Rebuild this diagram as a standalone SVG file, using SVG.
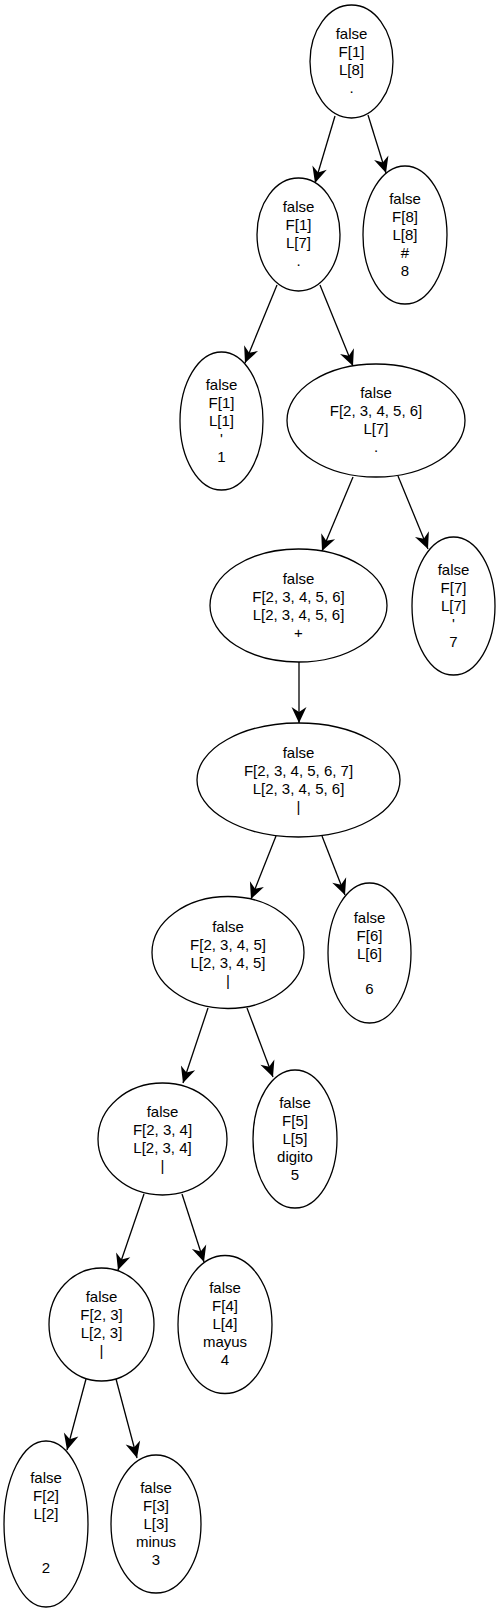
<svg xmlns="http://www.w3.org/2000/svg" width="500" height="1613" viewBox="0 0 500 1613">
<style>
.n ellipse{fill:#fff;stroke:#000;stroke-width:1.3}
.n text{font-family:"Liberation Sans",Arial,sans-serif;font-size:15px;text-anchor:middle;fill:#000}
.e line{stroke:#000;stroke-width:1.3;marker-end:url(#arr)}
</style>
<defs>
<marker id="arr" viewBox="-17 -9 18 18" refX="0" refY="0" markerWidth="18" markerHeight="18" markerUnits="userSpaceOnUse" orient="auto">
<path d="M0,0 L-16,-7.5 L-11,0 L-16,7.5 Z" fill="#000"/>
</marker>
</defs>
<rect width="500" height="1613" fill="#fff"/>
<g id="edges" class="e">
<line x1="335" y1="116" x2="315" y2="183"/>
<line x1="368" y1="115" x2="386" y2="173"/>
<line x1="277" y1="285" x2="245" y2="363"/>
<line x1="320" y1="285" x2="353" y2="366"/>
<line x1="353" y1="477" x2="322" y2="551"/>
<line x1="398" y1="476" x2="428" y2="549"/>
<line x1="299" y1="662" x2="299" y2="723"/>
<line x1="276" y1="836" x2="251" y2="899"/>
<line x1="322" y1="836" x2="345" y2="895"/>
<line x1="208" y1="1008" x2="183" y2="1083"/>
<line x1="247" y1="1008" x2="273" y2="1077"/>
<line x1="144" y1="1194" x2="118" y2="1270"/>
<line x1="182" y1="1194" x2="204" y2="1262"/>
<line x1="86" y1="1379" x2="67" y2="1450"/>
<line x1="116" y1="1379" x2="137" y2="1458"/>
</g>
<g id="n1" class="n"><ellipse cx="351.5" cy="61.5" rx="41.5" ry="56.5"/>
<text y="39"><tspan x="351.5">false</tspan><tspan x="351.5" dy="18">F[1]</tspan><tspan x="351.5" dy="18">L[8]</tspan><tspan x="351.5" dy="18">.</tspan></text></g>
<g id="n2" class="n"><ellipse cx="298.5" cy="234.5" rx="41.5" ry="56.5"/>
<text y="212"><tspan x="298.5">false</tspan><tspan x="298.5" dy="18">F[1]</tspan><tspan x="298.5" dy="18">L[7]</tspan><tspan x="298.5" dy="18">.</tspan></text></g>
<g id="n3" class="n"><ellipse cx="405" cy="235" rx="42" ry="69"/>
<text y="204"><tspan x="405">false</tspan><tspan x="405" dy="18">F[8]</tspan><tspan x="405" dy="18">L[8]</tspan><tspan x="405" dy="18">#</tspan><tspan x="405" dy="18">8</tspan></text></g>
<g id="n4" class="n"><ellipse cx="221.5" cy="421" rx="41.5" ry="69"/>
<text y="390"><tspan x="221.5">false</tspan><tspan x="221.5" dy="18">F[1]</tspan><tspan x="221.5" dy="18">L[1]</tspan><tspan x="221.5" dy="18">'</tspan><tspan x="221.5" dy="18">1</tspan></text></g>
<g id="n5" class="n"><ellipse cx="376" cy="420.5" rx="89" ry="56.5"/>
<text y="398"><tspan x="376">false</tspan><tspan x="376" dy="18">F[2, 3, 4, 5, 6]</tspan><tspan x="376" dy="18">L[7]</tspan><tspan x="376" dy="18">.</tspan></text></g>
<g id="n6" class="n"><ellipse cx="298.5" cy="605.5" rx="88.5" ry="56.5"/>
<text y="584"><tspan x="298.5">false</tspan><tspan x="298.5" dy="18">F[2, 3, 4, 5, 6]</tspan><tspan x="298.5" dy="18">L[2, 3, 4, 5, 6]</tspan><tspan x="298.5" dy="18">+</tspan></text></g>
<g id="n7" class="n"><ellipse cx="453.5" cy="606" rx="41.5" ry="69"/>
<text y="575"><tspan x="453.5">false</tspan><tspan x="453.5" dy="18">F[7]</tspan><tspan x="453.5" dy="18">L[7]</tspan><tspan x="453.5" dy="18">'</tspan><tspan x="453.5" dy="18">7</tspan></text></g>
<g id="n8" class="n"><ellipse cx="298.5" cy="780" rx="101.5" ry="57"/>
<text y="758"><tspan x="298.5">false</tspan><tspan x="298.5" dy="18">F[2, 3, 4, 5, 6, 7]</tspan><tspan x="298.5" dy="18">L[2, 3, 4, 5, 6]</tspan><tspan x="298.5" dy="18">|</tspan></text></g>
<g id="n9" class="n"><ellipse cx="228" cy="952.5" rx="76" ry="56"/>
<text y="932"><tspan x="228">false</tspan><tspan x="228" dy="18">F[2, 3, 4, 5]</tspan><tspan x="228" dy="18">L[2, 3, 4, 5]</tspan><tspan x="228" dy="18">|</tspan></text></g>
<g id="n10" class="n"><ellipse cx="369.5" cy="953" rx="41.5" ry="70"/>
<text y="923"><tspan x="369.5">false</tspan><tspan x="369.5" dy="18">F[6]</tspan><tspan x="369.5" dy="18">L[6]</tspan><tspan x="369.5" dy="35">6</tspan></text></g>
<g id="n11" class="n"><ellipse cx="162.5" cy="1139" rx="64.5" ry="56"/>
<text y="1117"><tspan x="162.5">false</tspan><tspan x="162.5" dy="18">F[2, 3, 4]</tspan><tspan x="162.5" dy="18">L[2, 3, 4]</tspan><tspan x="162.5" dy="18">|</tspan></text></g>
<g id="n12" class="n"><ellipse cx="295" cy="1139" rx="42" ry="69"/>
<text y="1108"><tspan x="295">false</tspan><tspan x="295" dy="18">F[5]</tspan><tspan x="295" dy="18">L[5]</tspan><tspan x="295" dy="18">digito</tspan><tspan x="295" dy="18">5</tspan></text></g>
<g id="n13" class="n"><ellipse cx="101.5" cy="1324.5" rx="52.5" ry="56.5"/>
<text y="1302"><tspan x="101.5">false</tspan><tspan x="101.5" dy="18">F[2, 3]</tspan><tspan x="101.5" dy="18">L[2, 3]</tspan><tspan x="101.5" dy="18">|</tspan></text></g>
<g id="n14" class="n"><ellipse cx="225" cy="1324.5" rx="47" ry="69"/>
<text y="1293"><tspan x="225">false</tspan><tspan x="225" dy="18">F[4]</tspan><tspan x="225" dy="18">L[4]</tspan><tspan x="225" dy="18">mayus</tspan><tspan x="225" dy="18">4</tspan></text></g>
<g id="n15" class="n"><ellipse cx="46" cy="1524" rx="42" ry="83"/>
<text y="1483"><tspan x="46">false</tspan><tspan x="46" dy="18">F[2]</tspan><tspan x="46" dy="18">L[2]</tspan><tspan x="46" dy="54">2</tspan></text></g>
<g id="n16" class="n"><ellipse cx="156" cy="1524" rx="45" ry="69"/>
<text y="1493"><tspan x="156">false</tspan><tspan x="156" dy="18">F[3]</tspan><tspan x="156" dy="18">L[3]</tspan><tspan x="156" dy="18">minus</tspan><tspan x="156" dy="18">3</tspan></text></g>
</svg>
